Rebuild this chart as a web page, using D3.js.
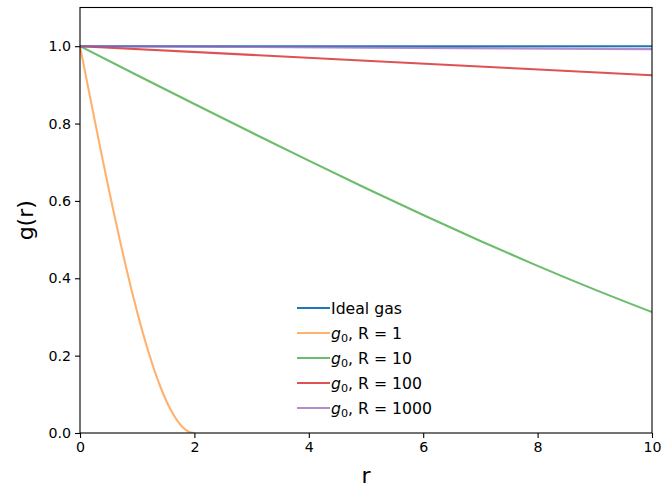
<!DOCTYPE html>
<html>
<head>
<meta charset="utf-8">
<script src="https://cdn.jsdelivr.net/npm/d3@7"></script>
<style>
  html, body { margin: 0; padding: 0; background: #fff; }
  svg { display: block; font-family: "DejaVu Sans", sans-serif; }
</style>
</head>
<body>
<svg id="chart" width="662" height="488"></svg>
<script>
// Pair correlation g(r) for overlapping spheres of radius R, compared to an ideal gas.
const rIdeal = [0, 10];
const gIdeal = [1, 1];

const rR1 = [0, 0.1, 0.2, 0.3, 0.4, 0.5, 0.6, 0.7, 0.8, 0.9, 1.0,
             1.1, 1.2, 1.3, 1.4, 1.5, 1.6, 1.7, 1.8, 1.9, 2.0];
const gR1 = [1.0, 0.925, 0.8505, 0.7767, 0.704, 0.6328, 0.5635, 0.4964, 0.432, 0.3706, 0.3125,
             0.2582, 0.208, 0.1623, 0.1215, 0.0859, 0.056, 0.0321, 0.0145, 0.0037, 0.0];

const rR10 = [0, 1, 2, 3, 4, 5, 6, 7, 8, 9, 10];
const gR10 = [1.0, 0.925, 0.8505, 0.7767, 0.704, 0.6328, 0.5635, 0.4964, 0.432, 0.3706, 0.3125];

const rR100 = [0, 5, 10];
const gR100 = [1.0, 0.9625, 0.925];

const rR1000 = [0, 5, 10];
const gR1000 = [1.0, 0.99625, 0.9925];

const seriesLabels = ["Ideal gas", "R = 1", "R = 10", "R = 100", "R = 1000"];
const seriesColors = ["#1f77b4", "#ff7f0e", "#2ca02c", "#d62728", "#9467bd"];
const seriesAlpha  = [1, 0.6, 0.7, 0.8, 0.75];

const xTicks = [0, 2, 4, 6, 8, 10];
const yTicks = [0.0, 0.2, 0.4, 0.6, 0.8, 1.0];

const series = [
  { r: rIdeal, g: gIdeal },
  { r: rR1, g: gR1 },
  { r: rR10, g: gR10 },
  { r: rR100, g: gR100 },
  { r: rR1000, g: gR1000 }
].map((s, i) => ({
  points: s.r.map((r, k) => [r, s.g[k]]),
  label: seriesLabels[i],
  color: seriesColors[i],
  alpha: seriesAlpha[i],
  isG0: i > 0
}));

const svg = d3.select("#chart");
const plotLeft = 80, plotRight = 652, plotTop = 7.5, plotBottom = 433;

const x = d3.scaleLinear().domain([0, 10]).range([plotLeft, plotRight]);
const y = d3.scaleLinear().domain([0, 1.1]).range([plotBottom, plotTop]);

const plot = svg.append("g");
plot.append("clipPath").attr("id", "clip")
  .append("rect").attr("x", plotLeft).attr("y", plotTop)
  .attr("width", plotRight - plotLeft).attr("height", plotBottom - plotTop);

const line = d3.line().x(d => x(d[0])).y(d => y(d[1])).curve(d3.curveMonotoneX);

plot.append("g").attr("clip-path", "url(#clip)")
  .selectAll("path").data(series).join("path")
  .attr("d", d => line(d.points))
  .attr("fill", "none")
  .attr("stroke", d => d.color)
  .attr("stroke-opacity", d => d.alpha)
  .attr("stroke-width", 2.1)
  .attr("stroke-linecap", "butt");

// Axes
const xAxis = d3.axisBottom(x).tickValues(xTicks).tickFormat(d3.format("d"))
  .tickSizeInner(5).tickSizeOuter(0).tickPadding(4);
const yAxis = d3.axisLeft(y).tickValues(yTicks).tickFormat(d3.format(".1f"))
  .tickSizeInner(5).tickSizeOuter(0).tickPadding(4);

const gx = svg.append("g").attr("transform", `translate(0,${plotBottom})`).call(xAxis);
const gy = svg.append("g").attr("transform", `translate(${plotLeft},0)`).call(yAxis);
[gx, gy].forEach(g => {
  g.select(".domain").remove();
  g.selectAll(".tick line").attr("stroke", "#000").attr("stroke-width", 1.1);
  g.selectAll(".tick text").attr("fill", "#000")
    .style("font-family", "DejaVu Sans").style("font-size", "14.2px");
});

// Frame
svg.append("rect")
  .attr("x", plotLeft).attr("y", plotTop)
  .attr("width", plotRight - plotLeft).attr("height", plotBottom - plotTop)
  .attr("fill", "none").attr("stroke", "#000").attr("stroke-width", 1.1);

// Axis labels
svg.append("text")
  .attr("x", (plotLeft + plotRight) / 2).attr("y", 483)
  .attr("text-anchor", "middle")
  .style("font-size", "22px")
  .text("r");

svg.append("text")
  .attr("transform", `translate(33,${(plotTop + plotBottom) / 2}) rotate(-90)`)
  .attr("text-anchor", "middle")
  .style("font-size", "22px")
  .text("g(r)");

// Legend
const legend = svg.append("g").attr("transform", "translate(297,308)");
const rows = legend.selectAll("g").data(series).join("g")
  .attr("transform", (d, i) => `translate(0,${i * 25})`);
rows.append("line")
  .attr("x1", 0).attr("x2", 33).attr("y1", 0).attr("y2", 0)
  .attr("stroke", d => d.color)
  .attr("stroke-opacity", d => d.alpha)
  .attr("stroke-width", 2.1);
const labels = rows.append("text")
  .attr("x", 34).attr("y", 5.5)
  .style("font-size", "15.7px");
labels.each(function (d) {
  const t = d3.select(this);
  if (d.isG0) {
    t.append("tspan").style("font-style", "italic").text("g");
    t.append("tspan").attr("dy", 3).style("font-size", "11.2px").text("0");
    t.append("tspan").attr("dy", -3).text(", " + d.label);
  } else {
    t.text(d.label);
  }
});
</script>
</body>
</html>
